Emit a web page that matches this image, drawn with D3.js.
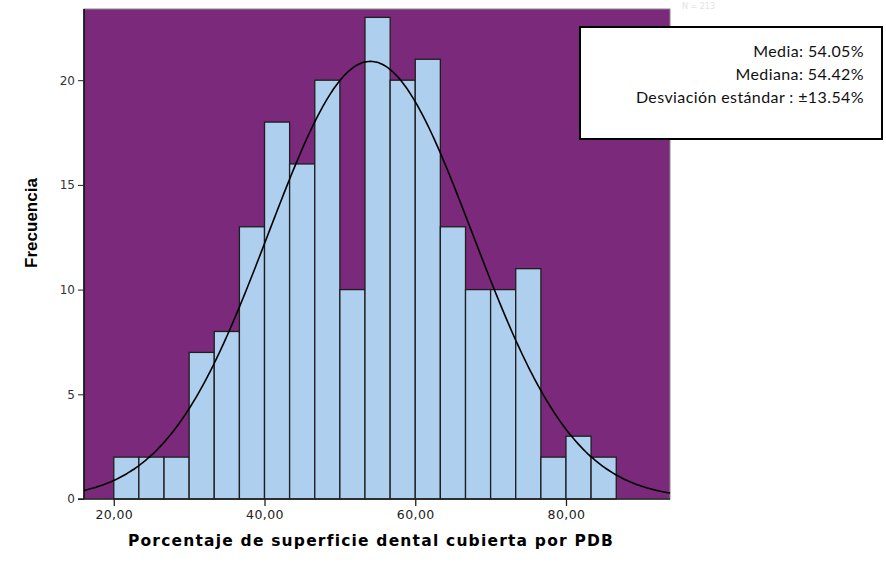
<!DOCTYPE html>
<html lang="es">
<head>
    <meta charset="UTF-8">
    <title>Histograma PDB</title>
    <script src="https://d3js.org/d3.v7.min.js"></script>
    <style>
        body { margin: 0; background: #fff; }
        svg { display: block; }
    </style>
</head>
<body>
    <svg id="hist" width="886" height="564"></svg>
    <script>
        // bin edges (%), 20 bins of 3.33 each
        const binEdges = [20, 23.33, 26.67, 30, 33.33, 36.67, 40, 43.33, 46.67, 50, 53.33,
            56.67, 60, 63.33, 66.67, 70, 73.33, 76.67, 80, 83.33, 86.67];
        const frequencies = [2, 2, 2, 7, 8, 13, 18, 16, 20, 10, 23, 20, 21, 13, 10, 10, 11, 2, 3, 2];
        const xTicks = [20, 40, 60, 80];
        const yTicks = [0, 5, 10, 15, 20];
        const statLines = ["Media: 54.05%", "Mediana: 54.42%", "Desviación estándar : ±13.54%"];
        const mean = 54.05;
        const sd = 13.54;
        const n = 213;

        const svg = d3.select("#hist");
        const plot = { left: 84, right: 670, top: 9, bottom: 499 };

        const x = d3.scaleLinear().domain([16.05, 93.8]).range([plot.left, plot.right]);
        const y = d3.scaleLinear().domain([0, 23.4]).range([plot.bottom, plot.top]);

        // purple background
        svg.append("rect")
            .attr("x", plot.left)
            .attr("y", plot.top)
            .attr("width", plot.right - plot.left)
            .attr("height", plot.bottom - plot.top)
            .attr("fill", "#7b297a")
            .attr("stroke", "#8a8a8a")
            .attr("stroke-width", 1);

        const bins = frequencies.map((f, i) => ({ x0: binEdges[i], x1: binEdges[i + 1], count: f }));

        svg.selectAll(".bar")
            .data(bins)
            .enter().append("rect")
            .attr("class", "bar")
            .attr("x", d => x(d.x0))
            .attr("y", d => y(d.count))
            .attr("width", d => x(d.x1) - x(d.x0))
            .attr("height", d => y(0) - y(d.count))
            .attr("fill", "#aecfee")
            .attr("stroke", "#1e1e1e")
            .attr("stroke-width", 1.3);

        // normal curve scaled to counts
        const binWidth = binEdges[1] - binEdges[0];
        const curvePts = d3.range(x.domain()[0], x.domain()[1] + 0.01, 0.25).map(v => {
            const z = (v - mean) / sd;
            return [v, n * binWidth / (sd * Math.sqrt(2 * Math.PI)) * Math.exp(-0.5 * z * z)];
        });
        svg.append("path")
            .datum(curvePts)
            .attr("fill", "none")
            .attr("stroke", "#000")
            .attr("stroke-width", 1.6)
            .attr("d", d3.line().x(d => x(d[0])).y(d => y(d[1])).curve(d3.curveBasis));

        // axes
        const yAxis = svg.append("g")
            .attr("transform", `translate(${plot.left},0)`)
            .call(d3.axisLeft(y).tickValues(yTicks).tickSize(6).tickPadding(3).tickSizeOuter(0));
        yAxis.select(".domain").attr("stroke", "#000").attr("stroke-width", 1.5)
            .attr("d", `M0,${plot.top}V${plot.bottom}`);
        yAxis.selectAll(".tick line").attr("stroke", "#222");
        yAxis.selectAll("text")
            .style("font-family", "DejaVu Sans, sans-serif")
            .style("font-size", "12px")
            .attr("fill", "#333");

        const xAxis = svg.append("g")
            .attr("transform", `translate(0,${plot.bottom})`)
            .call(d3.axisBottom(x).tickValues(xTicks).tickSize(7).tickPadding(4).tickSizeOuter(0)
                .tickFormat(d => d3.format(".2f")(d).replace(".", ",")));
        xAxis.select(".domain").attr("stroke", "#222").attr("stroke-width", 1.3)
            .attr("d", `M${plot.left - 6},0H${plot.right}`);
        xAxis.selectAll(".tick line").attr("stroke", "#222").attr("stroke-width", 1.3);
        xAxis.selectAll("text")
            .style("font-family", "DejaVu Sans, sans-serif")
            .style("font-size", "12.5px")
            .style("letter-spacing", "0.4px")
            .attr("fill", "#222");

        svg.append("text")
            .attr("x", (plot.left + plot.right) / 2 - 6)
            .attr("y", 546)
            .attr("text-anchor", "middle")
            .style("font-family", "DejaVu Sans, sans-serif")
            .style("font-weight", "bold")
            .style("font-size", "15.5px")
            .style("letter-spacing", "1.2px")
            .text("Porcentaje de superficie dental cubierta por PDB");

        svg.append("text")
            .attr("transform", "rotate(-90)")
            .attr("x", -223)
            .attr("y", 37)
            .attr("text-anchor", "middle")
            .style("font-family", "Liberation Sans, Arial, sans-serif")
            .style("font-weight", "bold")
            .style("font-size", "17px")
            .text("Frecuencia");

        // faint legend text at the top
        svg.append("text")
            .attr("x", 682)
            .attr("y", 9)
            .style("font-family", "DejaVu Sans, sans-serif")
            .style("font-size", "8px")
            .attr("fill", "#e2e2e2")
            .text("N = 213");

        // stats box
        svg.append("rect")
            .attr("x", 580)
            .attr("y", 27)
            .attr("width", 302)
            .attr("height", 112)
            .attr("fill", "#fff")
            .attr("stroke", "#000")
            .attr("stroke-width", 2);

        svg.selectAll(".stat")
            .data(statLines)
            .enter().append("text")
            .attr("class", "stat")
            .attr("x", 864)
            .attr("y", (d, i) => 57 + i * 23)
            .attr("text-anchor", "end")
            .style("font-family", "Lato, sans-serif")
            .style("font-size", "16px")
            .style("letter-spacing", "0.4px")
            .attr("fill", "#111")
            .text(d => d);
    </script>
</body>
</html>
